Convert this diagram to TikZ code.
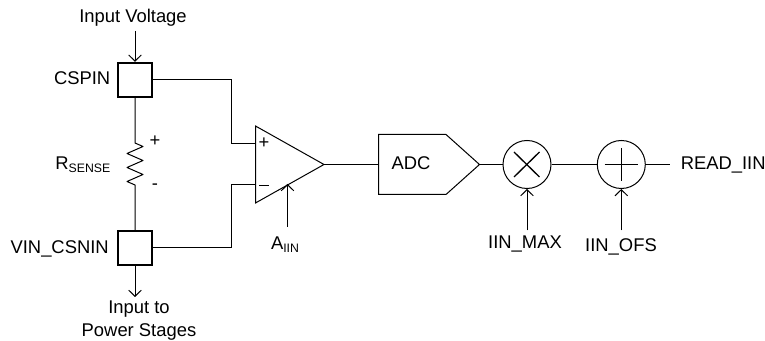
\documentclass[tikz,border=0pt]{standalone}
\usepackage{fontspec}
\setmainfont{Liberation Sans}
\usetikzlibrary{arrows.meta}
\begin{document}
\begin{tikzpicture}[x=0.75pt,y=-0.75pt,
  wire/.style={line width=0.75pt,black},
  arrowwire/.style={wire,-{Straight Barb[length=4.6pt,width=9.5pt,line width=0.75pt]}},
  pinbox/.style={draw,line width=1.8pt,minimum size=25.5pt,inner sep=0pt},
  opcircle/.style={circle,draw,line width=0.75pt,minimum size=36pt,inner sep=0pt},
  lbl/.style={inner sep=0pt,font=\fontsize{13.8pt}{16pt}\selectfont}]
\newcommand{\subtxt}[1]{\raisebox{-2pt}{\fontsize{9.2pt}{10pt}\selectfont #1}}
\useasboundingbox (0,0) rectangle (765,341);
\node[lbl] (tin) at (133,18) {Input Voltage};
\node[pinbox] (cs) at (135,80) {};
\node[pinbox] (vn) at (135,248) {};
\node[lbl,anchor=east] (csl) at (110.5,78.5) {CSPIN};
\node[lbl,anchor=east] (vnl) at (109,249) {VIN\_CSNIN};
\node[lbl,align=center] (tout) at (139,320.5) {Input to\\[1pt]Power Stages};
\node[lbl,anchor=east] (rs) at (110.5,165) {R\subtxt{SENSE}};
\node[lbl] (rp) at (155,141) {+};
\node[lbl] (rm) at (155,186.5) {-};
\coordinate (ti) at (135,31);
\coordinate (to) at (135,297);
\coordinate (rt) at (135,143);
\coordinate (rb) at (135,185);
\draw[arrowwire] (ti) -- (cs.north);
\draw[arrowwire] (vn.south) -- (to);
\draw[wire,line join=round] (cs.south) -- (rt) -- ++(8,3.5) -- ++(-16,7) -- ++(16,7) -- ++(-16,7) -- ++(16,7) -- ++(-16,7) -- ++(8,3.5) -- (vn.north);
% amplifier
\coordinate (ampa) at (255.5,126);
\coordinate (ampb) at (255.5,203);
\coordinate (ampo) at (324,164.5);
\coordinate (ampp) at (255.5,143.5);
\coordinate (ampm) at (255.5,185);
\coordinate (ampg) at (287.5,184);
\draw[wire,line join=miter] (ampa) -- (ampo) -- (ampb) -- cycle;
\draw[wire] (cs.east) -- (231,80) |- (ampp);
\draw[wire] (vn.east) -- (231,248) |- (ampm);
\node[lbl] (pl) at (264,143.5) {+};
\draw[line width=0.95pt] (259,185.5) -- (269,185.5);
\node[lbl] (aiin) at (285,245) {A\subtxt{IIN}};
\coordinate (ag) at (287.5,227);
\draw[arrowwire] (ag) -- (ampg);
% ADC
\coordinate (ad1) at (378.5,134.5);
\coordinate (ad2) at (446,134.5);
\coordinate (ad3) at (479.5,164.5);
\coordinate (ad4) at (446,194.5);
\coordinate (ad5) at (378.5,194.5);
\coordinate (adi) at (378.5,164.5);
\draw[wire,line join=miter] (ad1) -- (ad2) -- (ad3) -- (ad4) -- (ad5) -- cycle;
\node[lbl] (adc) at (411,163.5) {ADC};
\draw[wire] (ampo) -- (adi);
% ops
\node[opcircle] (mul) at (527,164.5) {};
\node[opcircle] (add) at (621.3,164.5) {};
\draw[wire,line width=1pt] (514,152) -- (539.5,177) (539.5,152) -- (514,177);
\draw[wire,line width=1pt] (604.5,164.5) -- (638,164.5) (621.3,148) -- (621.3,181);
\draw[wire] (ad3) -- (mul.west);
\draw[wire] (mul.east) -- (add.west);
\coordinate (oe) at (669.5,164.5);
\draw[wire] (add.east) -- (oe);
\node[lbl,anchor=west] (rd) at (680.5,165.5) {READ\_IIN};
\coordinate (m0) at (527,230.5);
\coordinate (a0) at (621.3,230.5);
\draw[arrowwire] (m0) -- (mul.south);
\draw[arrowwire] (a0) -- (add.south);
\node[lbl] (iinm) at (525,244.5) {IIN\_MAX};
\node[lbl] (iino) at (621,246.5) {IIN\_OFS};
\end{tikzpicture}
\end{document}
